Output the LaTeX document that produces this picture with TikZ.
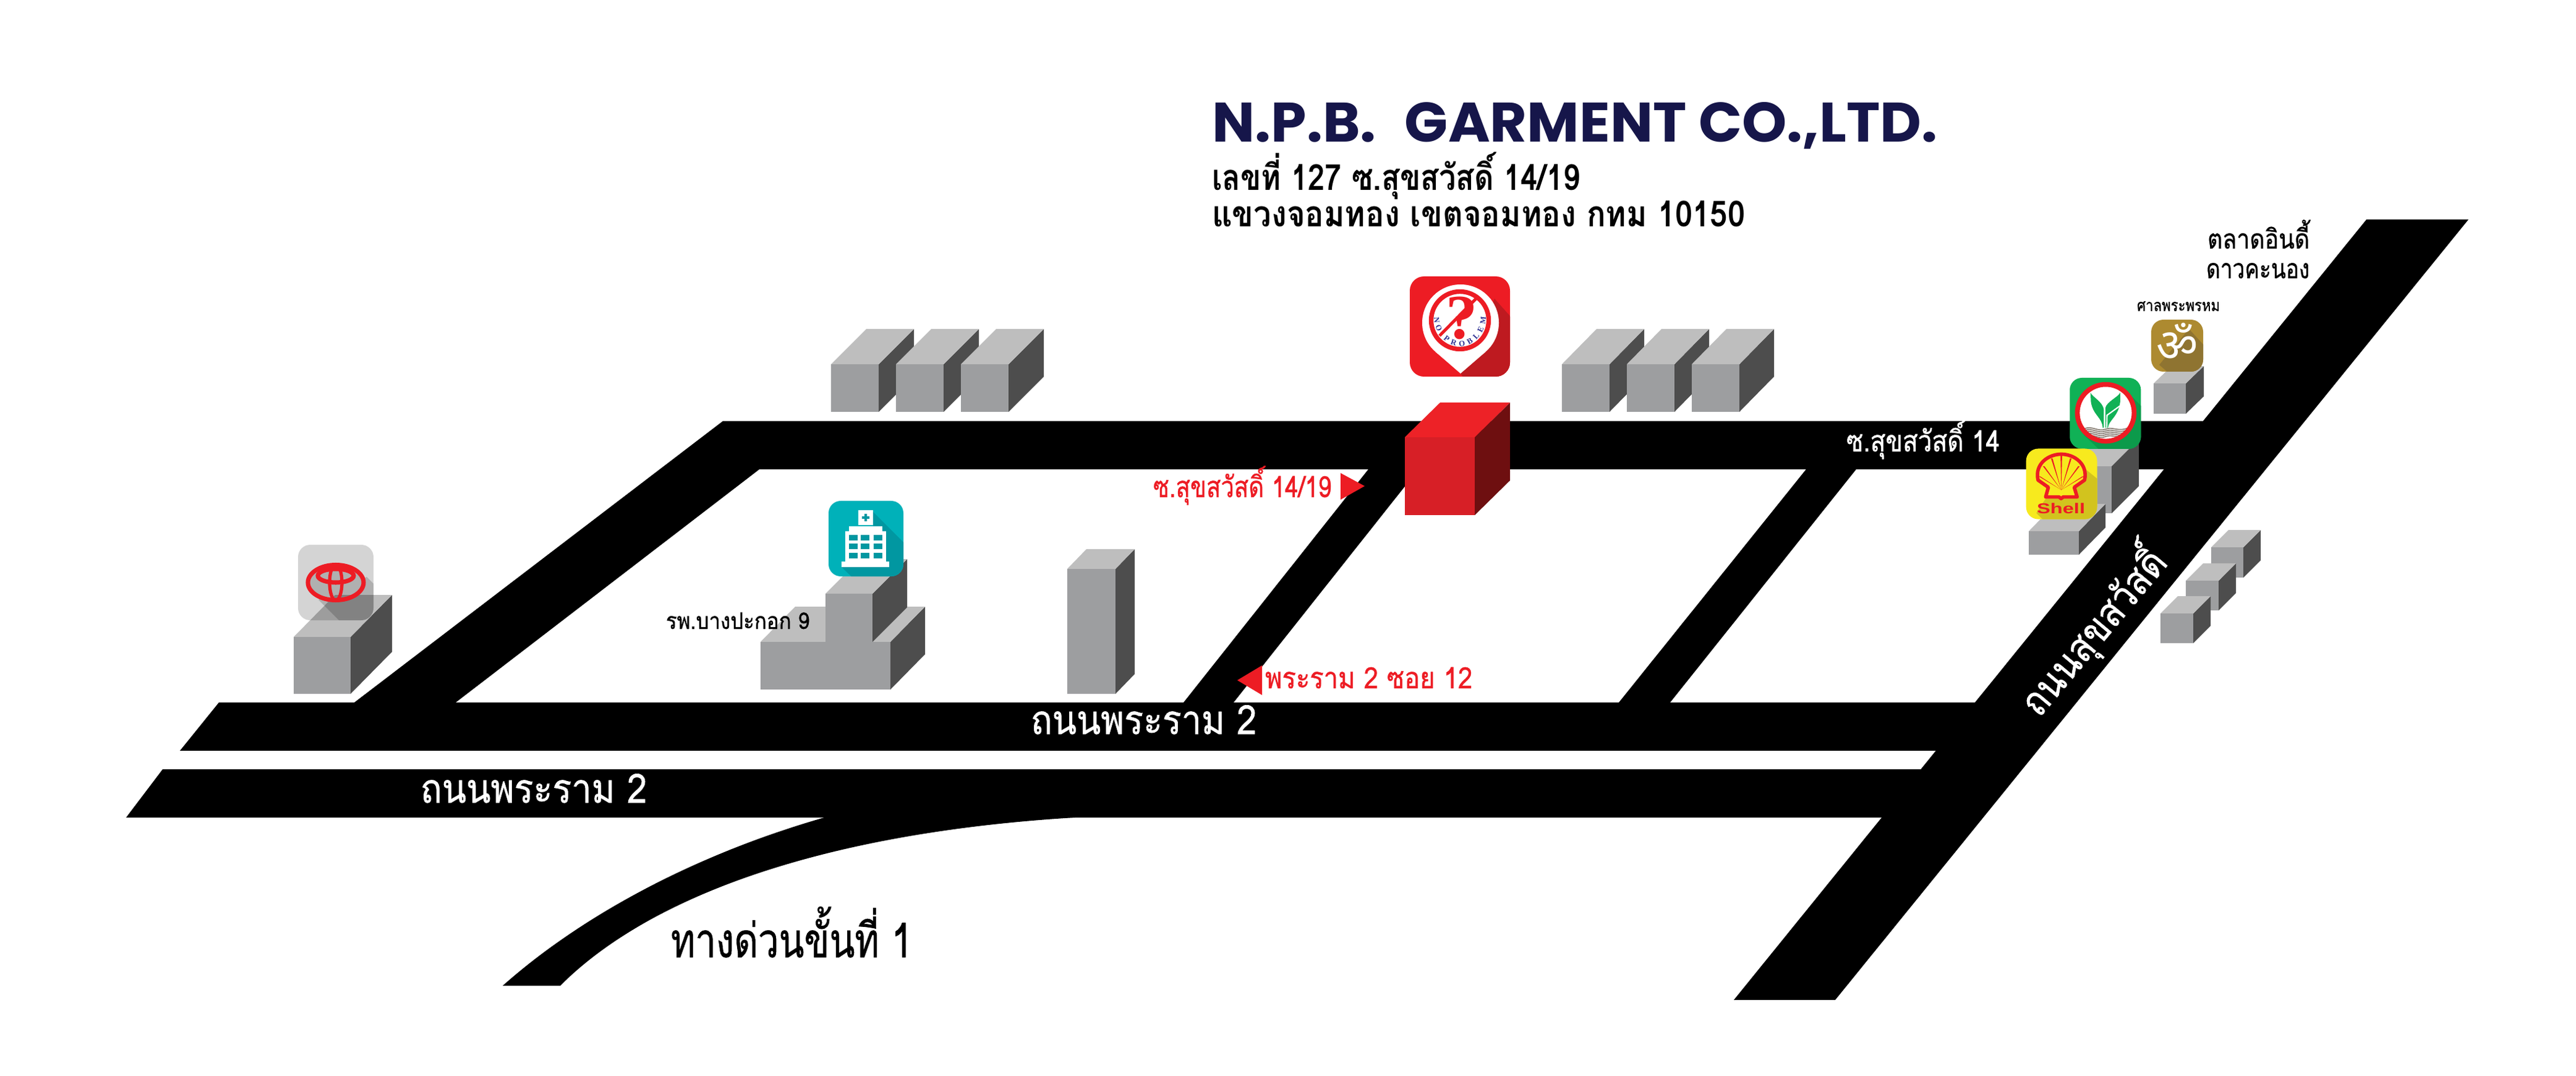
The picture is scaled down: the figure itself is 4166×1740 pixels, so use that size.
\documentclass[tikz,border=0pt]{standalone}
\usepackage{fontspec}
\usepackage{graphicx}
\usetikzlibrary{decorations.text}
\setmainfont{Liberation Sans}
\newfontfamily\thaifont[Script=Thai]{Loma}
\newfontfamily\thaimed[Script=Thai,FakeBold=0.9]{Loma}
\newfontfamily\titlefont{Poppins}
\newfontfamily\devfont[Script=Devanagari]{Noto Sans}
\newfontfamily\serifbold{Liberation Serif}
\newlength\unitpx \setlength\unitpx{0.28453pt}
\newcommand\fitw[2]{\resizebox{#1\unitpx}{\height}{#2}}
\newcommand\sz[1]{\fontsize{#1}{#1}\selectfont}
\definecolor{boxF}{HTML}{9D9EA0}
\definecolor{boxT}{HTML}{BEBEBE}
\definecolor{boxS}{HTML}{4D4D4D}
\definecolor{redF}{HTML}{D71F26}
\definecolor{redT}{HTML}{ED2227}
\definecolor{redS}{HTML}{6E0F10}
\definecolor{navy}{HTML}{16164A}
\definecolor{markred}{HTML}{ED1C24}
\definecolor{pinshade}{HTML}{BE1A20}
\definecolor{teal1}{HTML}{00B1B9}
\definecolor{teal2}{HTML}{0197A1}
\definecolor{gold1}{HTML}{AD8A30}
\definecolor{gold2}{HTML}{8F7431}
\definecolor{kgreen}{HTML}{10B156}
\definecolor{kshade}{HTML}{0C9A4B}
\definecolor{kwave}{HTML}{8C8279}
\definecolor{syellow}{HTML}{F7EA1E}
\definecolor{sshade}{HTML}{D2C31E}
\definecolor{pblue}{HTML}{2E3192}
\tikzset{
  road/.style={fill=black},
  boxfront/.style={fill=boxF},
  boxtop/.style={fill=boxT},
  boxside/.style={fill=boxS},
  lbl/.style={inner sep=0pt,outer sep=0pt,anchor=base west,font=\thaifont},
  lblw/.style={lbl,text=white},
  lblr/.style={lbl,text=markred},
  iconr/.style={rounded corners=5.6pt},
}
\newcommand\isobox[6]{%
  \fill[boxside] (#1+#3,#2) -- ++(#5,-#6) -- ++(0,#4) -- ++(-#5,#6) -- cycle;
  \fill[boxtop] (#1,#2) -- ++(#5,-#6) -- ++(#3,0) -- ++(-#5,#6) -- cycle;
  \fill[boxfront] (#1,#2) rectangle ++(#3,#4);}
\begin{document}
\begin{tikzpicture}[x=0.01cm,y=-0.01cm]
\useasboundingbox (0,0) rectangle (4166,1740);
\fill[white] (0,0) rectangle (4166,1740);
%% roads
\fill[road] (354,1136) -- (3290,1136) -- (3290,1214) -- (291,1214) -- cycle;
\fill[road] (263,1244) -- (3200,1244) -- (3200,1322) -- (204,1322) -- cycle;
\fill[road] (3827,355) -- (3992,355) -- (2968,1617) -- (2804,1617) -- cycle;
\fill[road] (1169,681) -- (3570,681) -- (3505,759) -- (1228,759) -- (737,1136) -- (573,1136) -- cycle;
\fill[road] (2216,755) -- (1914,1136) -- (1995,1136) -- (2297,755) -- cycle;
\fill[road] (2924,755) -- (2618,1136) -- (2701,1136) -- (3005,755) -- cycle;
\fill[road] (1340,1320) .. controls (1110,1385) and (930,1490) .. (813,1594) -- (906,1594)
   .. controls (1060,1440) and (1360,1340) .. (1775,1320) -- cycle;
%% grey blocks
\isobox{1344}{589}{77}{77}{57}{57}
\isobox{1449}{589}{77}{77}{57}{57}
\isobox{1554}{589}{77}{77}{57}{57}
\isobox{2526}{589}{77}{77}{56}{57}
\isobox{2631}{589}{77}{77}{56}{57}
\isobox{2736}{589}{77}{77}{56}{57}
\isobox{475}{1030}{92}{92}{67}{68}
\isobox{1230}{1038}{210}{77}{56}{57}
\isobox{1335}{960}{76}{78}{56}{56}
\isobox{1726}{920}{78}{202}{31}{32}
\isobox{3483}{620}{52}{49}{29}{28}
\isobox{3340}{754}{75}{76}{44}{44}
\isobox{3281}{859}{81}{38}{43}{44}
\isobox{3576}{885}{52}{49}{28}{28}
\isobox{3535}{939}{53}{48}{28}{28}
\isobox{3494}{992}{53}{48}{28}{28}
%% red building
\begin{scope}[boxfront/.style={fill=redF},boxtop/.style={fill=redT},boxside/.style={fill=redS}]
\isobox{2272}{707}{113}{126}{57}{56}
\end{scope}
%% red markers
\fill[markred] (2168,765) -- (2207,786) -- (2168,808) -- cycle;
\fill[markred] (2041,1076) -- (2001,1100) -- (2041,1124) -- cycle;
%% Toyota icon
\begin{scope}
\fill[black,opacity=.17,iconr] (482,881) rectangle (604,1003);
\clip[iconr] (482,881) rectangle (604,1003);
\fill[black,opacity=.17] (593,933) -- (615,955) -- (615,1010) -- (555,1010) -- (515,970) -- cycle
  (543,942) ellipse [x radius=45,y radius=29];
\draw[markred,line width=2pt] (543,942) ellipse [x radius=45,y radius=28.5];
\draw[markred,line width=2pt] (543,931) ellipse [x radius=29,y radius=11];
\draw[markred,line width=1.5pt] (543,942) ellipse [x radius=10,y radius=29];
\end{scope}
%% Hospital icon
\begin{scope}
\fill[teal1,iconr] (1340,810) rectangle (1461,932);
\clip[iconr] (1340,810) rectangle (1461,932);
\fill[teal2] (1412,828) -- (1470,886) -- (1470,940) -- (1385,940) -- (1361,917) -- (1412,880) -- cycle;
\fill[white] (1388,825) rectangle (1412,849);
\fill[white] (1373,851) rectangle (1427,860);
\fill[white] (1367,859) rectangle (1433,908);
\fill[white] (1361,908) rectangle (1438,917);
\fill[teal2] (1398,831) rectangle (1402,843) (1394,835) rectangle (1406,839);
\foreach \yy in {865,879,894}
  \foreach \xx in {1373,1392,1413}
    \fill[teal2] (\xx,\yy) rectangle ++(14,8.5);
\end{scope}
%% Company pin icon
\begin{scope}
\fill[markred,rounded corners=6.5pt] (2280,447) rectangle (2442,609);
\clip[rounded corners=6.5pt] (2280,447) rectangle (2442,609);
\fill[pinshade] (2417,483) -- (2450,520) -- (2450,615) -- (2370,615) -- (2362,604) -- cycle;
\fill[white] (2362,522) circle [radius=62];
\fill[white] (2321.4,568.9) -- (2362,604) -- (2402.6,568.9) -- cycle;
\draw[markred,line width=2.1pt] (2361,518) circle [radius=46.5];
\node[inner sep=0pt,text=markred,font=\serifbold\bfseries\sz{29}] (qmark) at (2364,514) {?};
\draw[markred,line width=1.4pt] (2387,483) -- (2328,543);
\path[decorate,decoration={text along path,text align={fit to path},
   text={|\serifbold\bfseries\sz{3.6}\color{pblue}|NO PROBLEM}}]
   (2319,513) .. controls (2319,538) and (2338,560) .. (2361,560) .. controls (2384,560) and (2403,538) .. (2403,513);
\end{scope}
%% Om icon
\begin{scope}
\fill[gold1,iconr] (3479,517) rectangle (3563,601);
\clip[iconr] (3479,517) rectangle (3563,601);
\fill[gold2] (3540,532) -- (3575,570) -- (3575,610) -- (3515,610) -- (3492,590) -- cycle;
\node[inner sep=0pt,text=white,font=\devfont\bfseries\sz{21}] (om) at (3521,553) {ॐ};
\end{scope}
%% KBank icon
\begin{scope}[shift={(3270,600)},x=0.003333cm,y=-0.003333cm]
\fill[kgreen,rounded corners=5.6pt] (232,33) rectangle (578,378);
\begin{scope}
\clip[rounded corners=5.6pt] (232,33) rectangle (578,378);
\fill[kshade] (530,120) -- (600,190) -- (600,400) -- (395,400) -- (300,310) -- cycle;
\end{scope}
\fill[white] (407,203) circle [radius=130];
\begin{scope}
\clip (407,203) circle [radius=130];
\foreach \dy in {0,9,18,27,36}
  \draw[kwave,line width=.5pt] (300,282+\dy) .. controls (340,262+\dy) and (370,298+\dy) .. (405,283+\dy)
     .. controls (440,268+\dy) and (470,298+\dy) .. (515,276+\dy);
\end{scope}
\draw[markred,line width=2.2pt] (407,203) circle [radius=138];
\fill[kgreen] (333,105) .. controls (340,125) and (395,150) .. (398,190) -- (398,275) -- (392,275)
   .. controls (390,225) and (345,215) .. (335,150) -- cycle;
\fill[kgreen] (477,105) .. controls (470,125) and (410,150) .. (405,180) -- (405,275) -- (418,275)
   .. controls (420,240) and (470,220) .. (477,150) -- cycle;
\draw[white,line width=.6pt] (412,275) -- (413,215) -- (478,168);
\end{scope}
%% Shell icon
\begin{scope}[shift={(3270,600)},x=0.003333cm,y=-0.003333cm]
\fill[syellow,rounded corners=5.6pt] (20,377) rectangle (365,720);
\begin{scope}
\clip[rounded corners=5.6pt] (20,377) rectangle (365,720);
\fill[sshade] (300,470) -- (380,535) -- (380,730) -- (110,730) -- (70,690) -- (115,620) -- cycle;
\end{scope}
\draw[markred,fill=syellow,line width=1.6pt,line join=round] (115,612) -- (128,565) -- (78,530)
   .. controls (60,450) and (130,404) .. (191,404) .. controls (252,404) and (322,450) .. (304,530)
   -- (254,565) -- (268,612) -- (200,612) -- (190,620) -- (180,612) -- cycle;
\foreach \tx/\ty in {85/512,105/462,145/425,191/410,237/425,277/462,297/512}
  \fill[markred] (191,578) -- (\tx-4,\ty) -- (\tx+4,\ty) -- cycle;
\node[inner sep=0pt,anchor=base west,text=markred,font=\bfseries\sz{6.6}] (shelltext) at (70,693) {\fitw{78}{Shell}};
\end{scope}
%% texts
\node[inner sep=0pt,anchor=base west,text=navy,font=\titlefont\bfseries\sz{25.6}] (title) at (1960,230)
  {\fitw{1172}{N.P.B.\hspace{.5em}GARMENT CO.,LTD.}};
\node[lbl,font=\thaifont\bfseries\sz{16.5}] (addr1) at (1960,308) {\fitw{595}{เลขที่ 127 ซ.สุขสวัสดิ์ 14/19}};
\node[lbl,font=\thaifont\bfseries\sz{16.5}] (addr2) at (1960,367) {\fitw{862}{แขวงจอมทอง เขตจอมทอง กทม 10150}};
\node[lblr,font=\thaimed\sz{13.5}] (soi1419) at (1865,804) {\fitw{288}{ซ.สุขสวัสดิ์ 14/19}};
\node[lblr,font=\thaimed\sz{13.5}] (rama12) at (2046,1113) {\fitw{335}{พระราม 2 ซอย 12}};
\node[lblw,font=\thaimed\sz{13.5}] (soi14) at (2986,730) {\fitw{248}{ซ.สุขสวัสดิ์ 14}};
\node[lblw,font=\thaimed\sz{18.5}] (r2a) at (1667,1187) {\fitw{365}{ถนนพระราม 2}};
\node[lblw,font=\thaimed\sz{18.5}] (r2b) at (680,1298) {\fitw{366}{ถนนพระราม 2}};
\node[lbl,font=\thaimed\sz{22}] (express) at (1085,1548) {\fitw{390}{ทางด่วนขั้นที่ 1}};
\node[lbl,font=\thaimed\sz{10.5}] (hosp) at (1077,1017) {\fitw{232}{รพ.บางปะกอก 9}};
\node[lbl,font=\thaimed\sz{12.5}] (mkt1) at (3570,402) {\fitw{165}{ตลาดอินดี้}};
\node[lbl,font=\thaimed\sz{12.5}] (mkt2) at (3568,450) {\fitw{167}{ดาวคะนอง}};
\node[lbl,font=\thaimed\sz{7.5}] (shrine) at (3456,503) {\fitw{134}{ศาลพระพรหม}};
\node[lblw,anchor=center,rotate=50,font=\thaimed\sz{18.5}] (sukh) at (3383,1020) {\fitw{327}{ถนนสุขสวัสดิ์}};
\end{tikzpicture}
\end{document}
